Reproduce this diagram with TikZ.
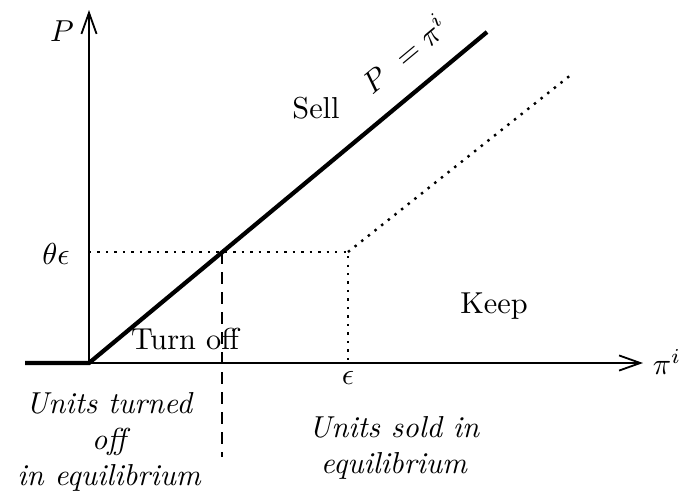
\documentclass[tikz,border=0pt]{standalone}
\usepackage{tikz}
\usetikzlibrary{arrows.meta,positioning,calc}

\begin{document}
\begin{tikzpicture}[x=0.33pt,y=-0.33pt,
  axis/.style={semithick,-{Straight Barb[length=7pt,width=5pt]}},
  curve/.style={line width=1.4pt},
  guide/.style={dotted,thick},
  cut/.style={semithick,dash pattern=on 4pt off 2.6pt},
  lbl/.style={font=\itshape,align=center}]
\useasboundingbox (0,0) rectangle (684,498);
% key points
\coordinate (O) at (89,363);
\coordinate (ytop) at (89,10);
\coordinate (xend) at (643,363);
\coordinate (xleft) at (25,363);
\coordinate (top) at (487,32);
\coordinate (kink) at (348,252);
\coordinate (kend) at (572,74);
\coordinate (cross) at (222,252);
\coordinate (eps) at (348,363);
\coordinate (cutend) at (222,457);
% axes
\draw[axis] (O) -- (ytop);
\draw[axis] (O) -- (xend);
\node (plbl) at (62,31) {$P$};
\node (pilbl) at (667,362) {$\pi^i$};
% price line
\draw[curve] (xleft) -- (O) -- (top) node[pos=0.85,sloped,above=4pt] (eqlbl) {$P\ =\pi^i$};
% guides
\draw[guide] (O |- kink) -- (kink) -- (eps);
\draw[guide] (kink) -- (kend);
\draw[cut] (cross) -- (cutend);
\node (thlbl) at (56,254) {$\theta\epsilon$};
\node (epslbl) at (348,378) {$\epsilon$};
% regions
\node[anchor=base] (sell) at (316,118) {Sell};
\node[anchor=base] (keep) at (494,313) {Keep};
\node[anchor=base] (turnoff) at (185,349) {Turn off};
\node[lbl] (offtxt) at (109,442) {Units turned\\off\\in equilibrium};
\node[lbl] (soldtxt) at (394,448) {Units sold in\\equilibrium};
\end{tikzpicture}
\end{document}
